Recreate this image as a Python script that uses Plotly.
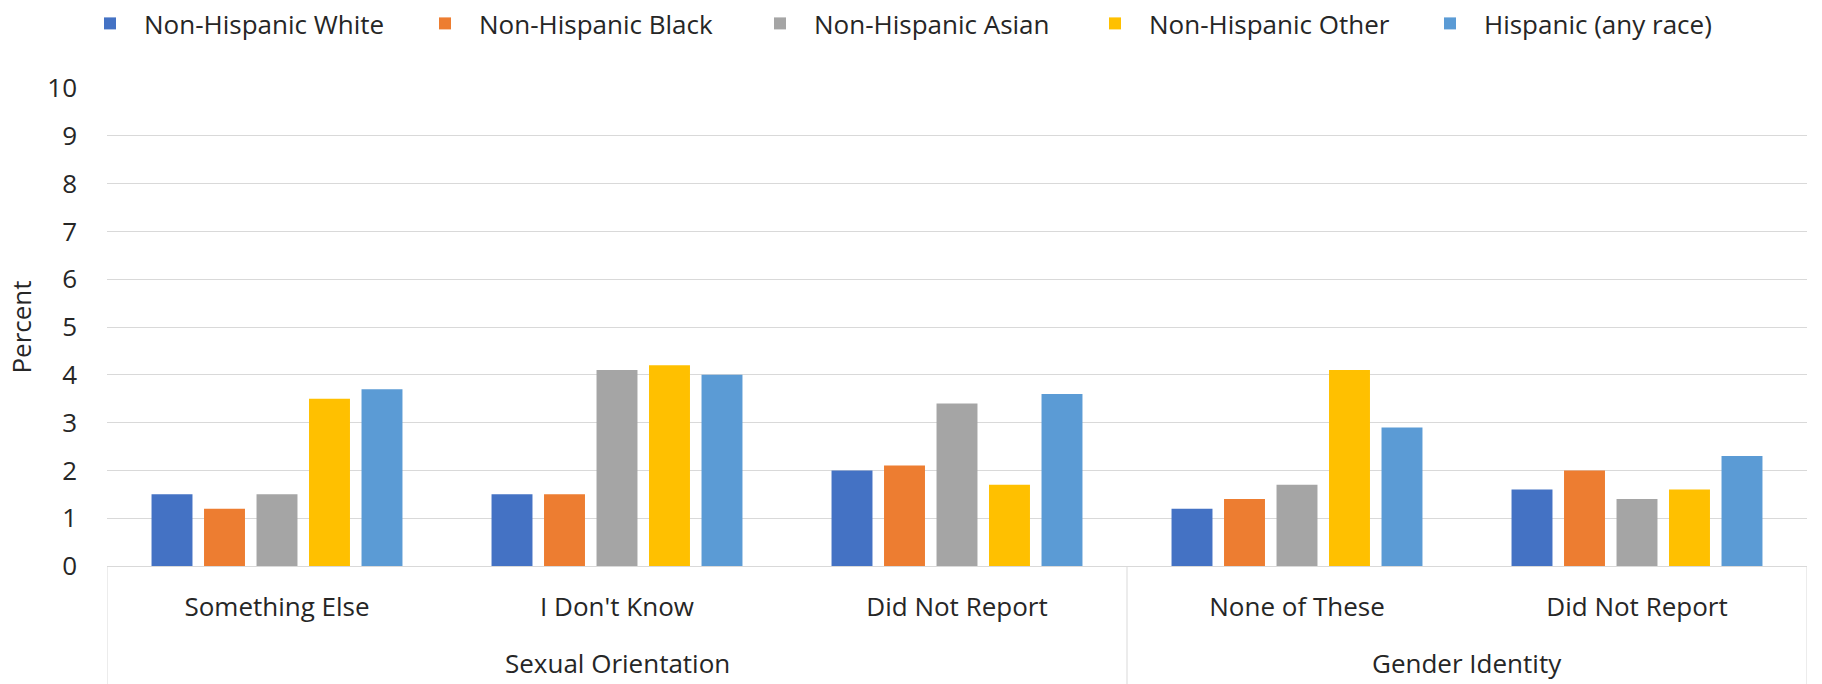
import plotly.graph_objects as go

groups = ["Sexual Orientation", "Sexual Orientation", "Sexual Orientation",
          "Gender Identity", "Gender Identity"]
categories = ["Something Else", "I Don't Know", "Did Not Report",
              "None of These", "Did Not Report"]

series_names = ["Non-Hispanic White", "Non-Hispanic Black", "Non-Hispanic Asian",
                "Non-Hispanic Other", "Hispanic (any race)"]
white = [1.5, 1.5, 2.0, 1.2, 1.6]
black = [1.2, 1.5, 2.1, 1.4, 2.0]
asian = [1.5, 4.1, 3.4, 1.7, 1.4]
other = [3.5, 4.2, 1.7, 4.1, 1.6]
hispanic = [3.7, 4.0, 3.6, 2.9, 2.3]
colors = ["#4472C4", "#ED7D31", "#A5A5A5", "#FFC000", "#5B9BD5"]

y_ticks = list(range(0, 11))

FONT = "Open Sans"
TXT = "#262626"
GRID = "#D9D9D9"

n = len(categories)
xpos = list(range(n))

fig = go.Figure()
for name, vals, col in zip(series_names, [white, black, asian, other, hispanic], colors):
    fig.add_trace(go.Bar(x=xpos, y=vals, name=name,
                         marker=dict(color=col, line=dict(width=0))))

# group spans computed from the group list
spans = []
start = 0
for i in range(1, n + 1):
    if i == n or groups[i] != groups[start]:
        spans.append((groups[start], start, i - 1))
        start = i

plot_h = 684 - 88 - 118
shapes = []
annotations = []
bounds = sorted({s - 0.5 for _, s, _ in spans} | {e + 0.5 for _, _, e in spans})
for b in bounds:
    shapes.append(dict(type="line", xref="x", yref="paper", x0=b, x1=b,
                       y0=0, y1=-130 / plot_h, line=dict(color=GRID, width=1),
                       layer="above"))
for name, s, e in spans:
    annotations.append(dict(text=name, xref="x", yref="paper", x=(s + e) / 2,
                            y=-97 / plot_h, yanchor="middle", xanchor="center",
                            showarrow=False,
                            font=dict(family=FONT, size=26, color=TXT)))

fig.update_layout(
    width=1822, height=684,
    margin=dict(l=107, r=15, t=88, b=118),
    paper_bgcolor="white", plot_bgcolor="white",
    barmode="group", bargap=0.228, bargroupgap=0.22,
    font=dict(family=FONT, size=26, color=TXT),
    legend=dict(orientation="h", xref="container", yref="container",
                x=76 / 1822, xanchor="left", y=1.0, yanchor="top",
                itemwidth=58, entrywidth=262, entrywidthmode="pixels",
                font=dict(family=FONT, size=26, color=TXT),
                bgcolor="rgba(0,0,0,0)", traceorder="normal"),
    showlegend=True,
    shapes=shapes,
    annotations=annotations,
)
fig.update_xaxes(
    range=[-0.5, n - 0.5], tickvals=xpos, ticktext=categories,
    showgrid=False, zeroline=False, showline=True, linecolor=GRID, linewidth=1,
    tickfont=dict(family=FONT, size=26, color=TXT), ticks="", ticklabelstandoff=18,
)
fig.update_yaxes(
    range=[0, 10], tickvals=y_ticks, showgrid=True, gridcolor=GRID, gridwidth=1,
    zeroline=False, showline=False, ticks="", ticklabelstandoff=29,
    tickfont=dict(family=FONT, size=26, color=TXT),
    title=dict(text="Percent", font=dict(family=FONT, size=26, color=TXT), standoff=8),
)

fig.write_html("out.html")
